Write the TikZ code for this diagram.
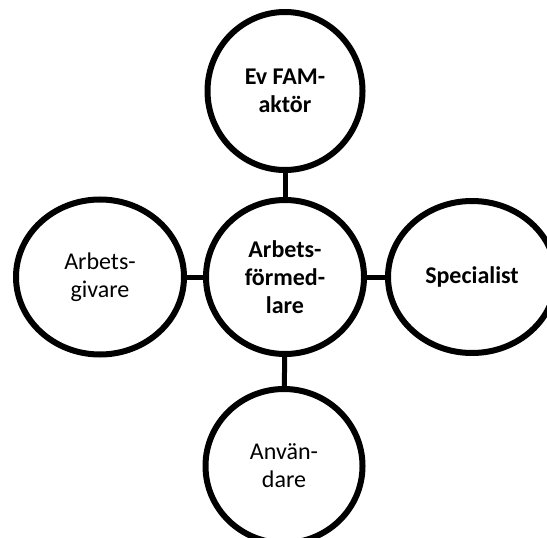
\documentclass[tikz,border=0pt]{standalone}
\usepackage{fontspec}
\setmainfont{Carlito}
\usepackage{tikz}
\usetikzlibrary{shapes.geometric}

\begin{document}
\begin{tikzpicture}[x=1bp, y=-1bp,
	actor/.style={draw, ellipse, line width=6bp, align=center, inner sep=0pt,
		font=\fontsize{24bp}{28bp}\selectfont},
	keyactor/.style={actor, font=\fontsize{24bp}{28bp}\selectfont\bfseries},
	link/.style={line width=5bp}]
	\useasboundingbox (0,0) rectangle (547,538);
	\node (af) [keyactor, minimum width=158bp, minimum height=154bp] at (285,277) {Arbets-\\förmed-\\lare}
	node (fam) [keyactor, minimum width=155bp, minimum height=158bp] at (285,91) {Ev FAM-\\aktör}
	node (ag)  [actor, minimum width=168bp, minimum height=155bp] at (100,277) {Arbets-\\givare}
	node (sp)  [keyactor, minimum width=168bp, minimum height=152bp] at (472,277) {Specialist}
	node (anv) [actor, minimum width=157bp, minimum height=154bp] at (284,466) {Använ-\\dare}
	foreach \X in {fam,ag,sp,anv}
	{(af) edge[link] (\X)};
\end{tikzpicture}
\end{document}
